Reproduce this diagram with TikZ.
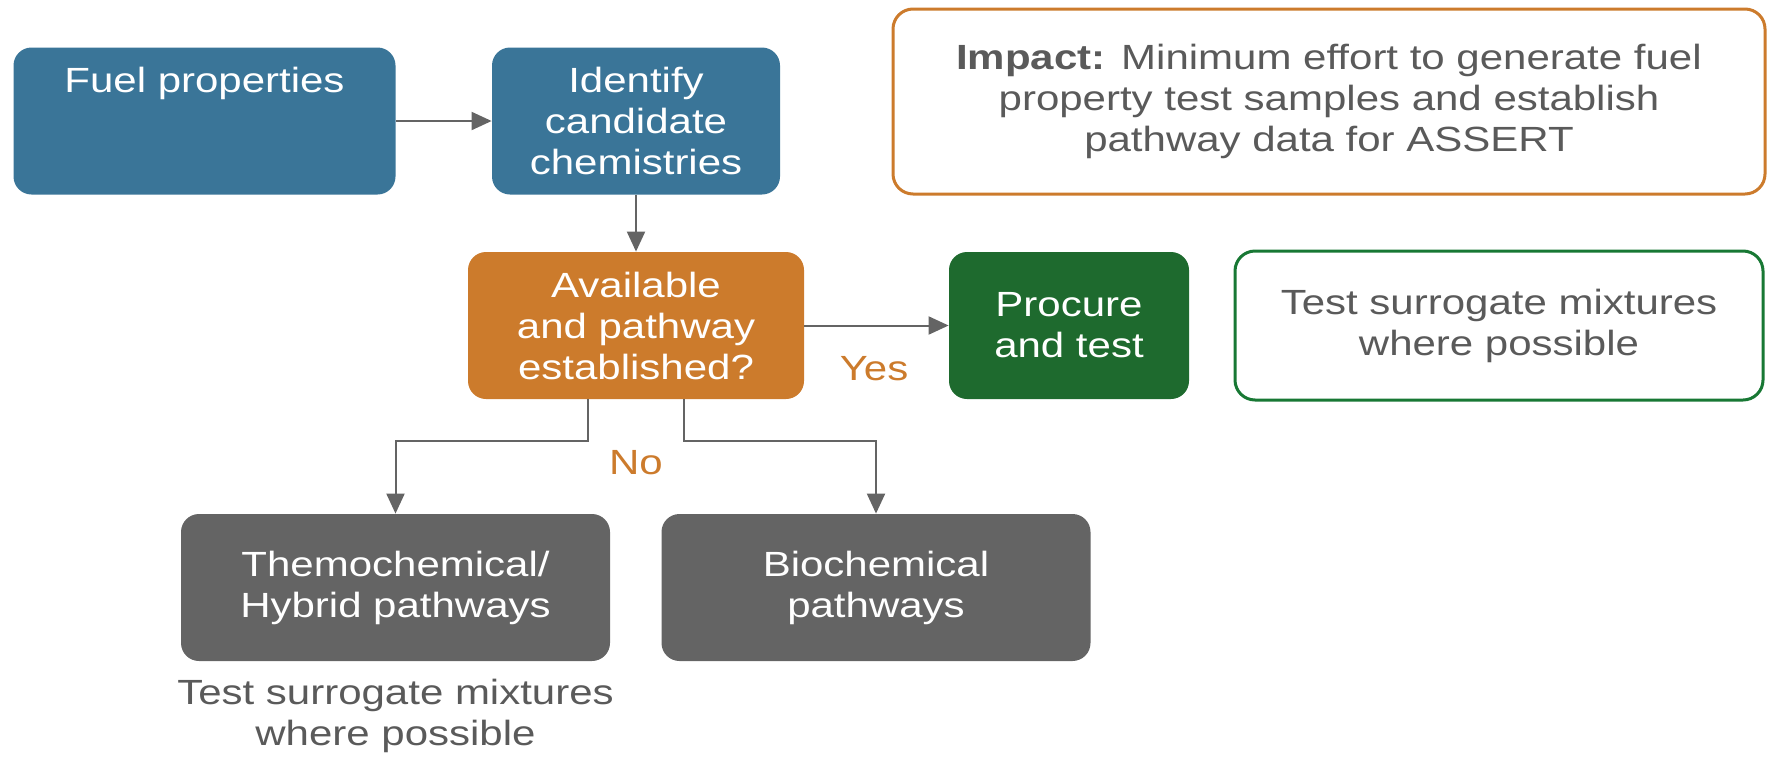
\documentclass[tikz,border=0pt]{standalone}
\usepackage{fontspec}
\setmainfont{Liberation Sans}[FakeStretch=1.2]
\usetikzlibrary{%
   arrows.meta,%
   positioning,%
   calc%
}
\definecolor{fuelblue}{RGB}{58,117,152}
\definecolor{askorange}{RGB}{204,123,44}
\definecolor{procgreen}{RGB}{30,106,46}
\definecolor{linegreen}{RGB}{24,120,52}
\definecolor{pathgray}{RGB}{100,100,100}
\definecolor{notegray}{RGB}{90,90,90}

\begin{document}
\begin{tikzpicture}[x=0.5pt,y=-0.5pt,
	font=\fontsize{17.5}{20.5}\selectfont,
	box/.style={
	rectangle,rounded corners=9pt,
	inner sep=0pt,align=center,
	minimum height=73.5pt,text=white
	},bluebox/.style={
	box,fill=fuelblue
	},askbox/.style={
	box,fill=askorange
	},procbox/.style={
	box,fill=procgreen
	},graybox/.style={
	box,fill=pathgray,minimum width=214.5pt
	},notebox/.style={
	rectangle,rounded corners=10pt,
	line width=1.5pt,fill=white,
	inner sep=0pt,align=center,text=notegray
	},answer/.style={
	text=askorange
	},arr/.style={
	draw=pathgray,line width=1pt,
	-{Triangle[length=10pt,width=9pt]}
	}
]
\useasboundingbox (0,0) rectangle (1772,756);

% top row
\node (fuel) [bluebox,minimum width=191pt] at (204.5,121) {Fuel properties\\~\\~};
\node (ident) [bluebox,minimum width=144pt] at (636,121) {Identify\\candidate\\chemistries};
\node (impact) [notebox,draw=askorange,minimum width=436pt,minimum height=92.5pt] at (1329,101.5)
	{\textbf{Impact:} Minimum effort to generate fuel\\property test samples and establish\\pathway data for ASSERT};

% middle row
\node (avail) [askbox,minimum width=168pt] at (636,325.5) {Available\\and pathway\\established?};
\node (procure) [procbox,minimum width=120pt] at (1069,325.5) {Procure\\and test};
\node (surr) [notebox,draw=linegreen,minimum width=264pt,minimum height=74.5pt] at (1499,325.5)
	{Test surrogate mixtures\\where possible};
\node (yes) [answer] at (874,369) {Yes};

% bottom row
\node (thermo) [graybox] at (395.5,587.5) {Themochemical/\\Hybrid pathways};
\node (bio) [graybox] at (876,587.5) {Biochemical\\pathways};
\node (no) [answer] at (636,463) {No};
\node (thermonote) [align=center,text=notegray] at (395.5,716) {Test surrogate mixtures\\where possible};

% connectors
\coordinate (splitL) at ([xshift=-24pt]avail.south);
\coordinate (splitR) at ([xshift=24pt]avail.south);
\draw[arr] (fuel) -- (ident);
\draw[arr] (ident) -- (avail);
\draw[arr] (avail) -- (procure);
\draw[arr] (splitL) -- ++(0,-21pt) -| (thermo.north);
\draw[arr] (splitR) -- ++(0,-21pt) -| (bio.north);

\end{tikzpicture}
\end{document}
